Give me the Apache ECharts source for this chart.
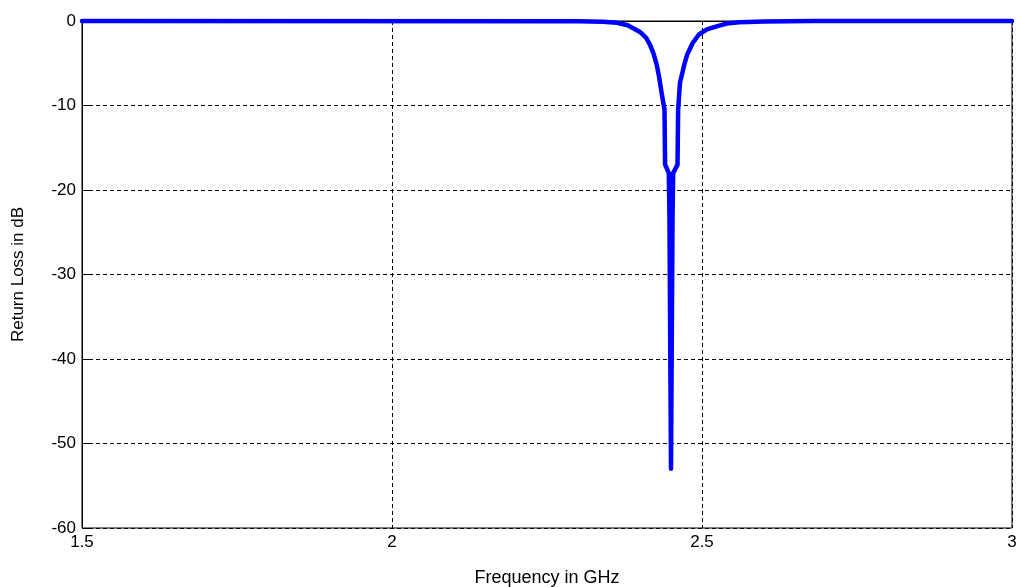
<!DOCTYPE html>
<html>
<head>
<meta charset="utf-8">
<script src="https://cdn.jsdelivr.net/npm/echarts@6/dist/echarts.min.js"></script>
<style>
html,body{margin:0;padding:0;background:#fff;}
#chart{width:1016px;height:587px;}
</style>
</head>
<body>
<div id="chart"></div>
<script>
const freqGHz = [1.5, 2.30, 2.34, 2.363, 2.38, 2.40, 2.41, 2.416, 2.422, 2.427, 2.431, 2.4355, 2.4395, 2.4405, 2.4465, 2.4475, 2.45, 2.4525, 2.4535, 2.4605, 2.4615, 2.4645, 2.472, 2.476, 2.485, 2.495, 2.508, 2.525, 2.54, 2.56, 2.60, 2.68, 3.0];
const returnLossDb = [0, -0.03, -0.08, -0.2, -0.5, -1.3, -2.0, -2.8, -3.9, -5.2, -6.7, -8.8, -10.5, -17, -18, -23, -53, -23, -18, -17, -10.5, -7.3, -5.0, -4.0, -2.6, -1.6, -1.0, -0.6, -0.3, -0.15, -0.05, 0, 0];
const xTicks = [1.5, 2, 2.5, 3];
const yTicks = [-60, -50, -40, -30, -20, -10, 0];
const xTitle = 'Frequency in GHz';
const yTitle = 'Return Loss in dB';

const chart = echarts.init(document.getElementById('chart'));
const font = 'Liberation Sans, Arial, sans-serif';
const fmtX = v => (xTicks.includes(v) ? String(v) : '');
const tickIn = {show: true, inside: true, length: 7, lineStyle: {color: '#000', width: 1}};
const dashed = {show: true, lineStyle: {color: '#000', width: 1, type: [4, 3]}};
chart.setOption({
  animation: false,
  backgroundColor: '#fff',
  grid: {left: 82, right: 4, top: 21, bottom: 59, outerBoundsMode: 'none', containLabel: false,
         show: true, borderColor: '#000', borderWidth: 1, backgroundColor: 'transparent'},
  xAxis: [{
    type: 'value', min: 1.5, max: 3, interval: 0.5,
    name: xTitle, nameLocation: 'middle', nameGap: 41,
    nameTextStyle: {fontFamily: font, fontSize: 18, color: '#000'},
    axisLine: {show: true, lineStyle: {color: '#000', width: 1}},
    axisTick: {show: false},
    axisLabel: {fontFamily: font, fontSize: 17, color: '#000', margin: 6, formatter: fmtX},
    splitLine: dashed
  }],
  yAxis: [{
    type: 'value', min: -60, max: 0, interval: 10,
    name: yTitle, nameLocation: 'middle', nameGap: 55,
    nameTextStyle: {fontFamily: font, fontSize: 17, color: '#000'},
    axisLine: {show: true, lineStyle: {color: '#000', width: 1}},
    axisTick: tickIn,
    axisLabel: {fontFamily: font, fontSize: 17, color: '#000', margin: 6},
    splitLine: dashed
  }],
  series: [{
    type: 'line',
    data: freqGHz.map((f, i) => [f, returnLossDb[i]]),
    showSymbol: false, symbol: 'none', clip: false,
    lineStyle: {color: '#0000ff', width: 4.5, cap: 'round', join: 'round'},
    z: 10
  }]
});
</script>
</body>
</html>
